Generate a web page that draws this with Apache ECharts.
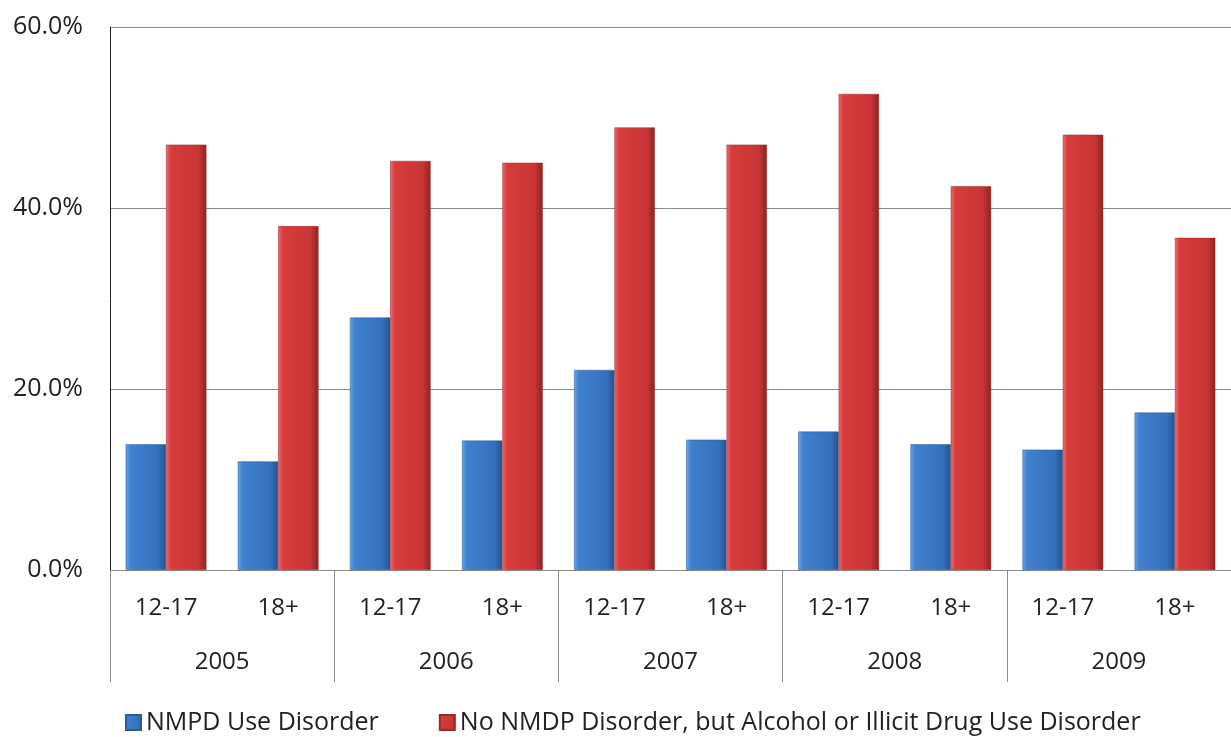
<!DOCTYPE html>
<html>
<head>
<meta charset="utf-8">
<script src="https://cdn.jsdelivr.net/npm/echarts@6/dist/echarts.min.js"></script>
<style>html,body{margin:0;padding:0;background:#fff;}#chart{width:1231px;height:737px;}</style>
</head>
<body>
<div id="chart"></div>
<script>
var ageGroups = ['12-17','18+','12-17','18+','12-17','18+','12-17','18+','12-17','18+'];
var years = ['2005','2006','2007','2008','2009'];
var seriesNames = ['NMPD Use Disorder','No NMDP Disorder, but Alcohol or Illicit Drug Use Disorder'];
var nmpdValues = [13.9, 12.0, 27.9, 14.3, 22.1, 14.4, 15.3, 13.9, 13.3, 17.4];
var otherValues = [47.0, 38.0, 45.2, 45.0, 48.9, 47.0, 52.6, 42.4, 48.1, 36.7];
var yTicks = [0, 20, 40, 60];

var FONT = '"Open Sans", "Noto Sans", sans-serif';
function grad(c0, c1, c2, c3) {
  return new echarts.graphic.LinearGradient(0, 0, 1, 0, [
    {offset: 0, color: c0}, {offset: 0.12, color: c1},
    {offset: 0.8, color: c2}, {offset: 1, color: c3}
  ]);
}
var chart = echarts.init(document.getElementById('chart'));
chart.setOption({
  animation: false,
  backgroundColor: '#ffffff',
  grid: {left: 110, right: 0, top: 27, bottom: 167, containLabel: false},
  legend: {
    left: 120, top: 705, itemWidth: 15, itemHeight: 15, itemGap: 60,
    icon: 'rect',
    textStyle: {fontFamily: FONT, fontSize: 25, color: '#222'},
    data: seriesNames
  },
  xAxis: [{
    type: 'category', data: ageGroups, position: 'bottom',
    axisLine: {show: true, lineStyle: {color: '#8a8a8a', width: 1}},
    axisTick: {show: false},
    axisLabel: {margin: 26, fontFamily: FONT, fontSize: 24, color: '#222', interval: 0}
  }, {
    type: 'category', data: years, position: 'bottom',
    axisLine: {show: false},
    axisTick: {show: true, length: 112, interval: 0, lineStyle: {color: '#8a8a8a', width: 1}},
    axisLabel: {margin: 80, fontFamily: FONT, fontSize: 24, color: '#222', interval: 0}
  }],
  yAxis: {
    type: 'value', min: yTicks[0], max: yTicks[yTicks.length - 1], interval: 20,
    axisLine: {show: true, lineStyle: {color: '#222', width: 1}},
    axisTick: {show: false},
    splitLine: {show: true, lineStyle: {color: '#8a8a8a', width: 1}},
    axisLabel: {margin: 27, fontFamily: FONT, fontSize: 25, color: '#222',
      formatter: function (v) { return v.toFixed(1) + '%'; }}
  },
  series: [{
    name: seriesNames[0], type: 'bar', data: nmpdValues,
    barGap: '0%', barCategoryGap: '28%',
    itemStyle: {color: grad('#6aa6e6', '#3f80cf', '#3570bd', '#24528f'), borderColor: '#2c5b99', borderWidth: 0.5}
  }, {
    name: seriesNames[1], type: 'bar', data: otherValues,
    barGap: '0%', barCategoryGap: '28%',
    itemStyle: {color: grad('#ec6c6c', '#d73c3c', '#c83535', '#8f2222'), borderColor: '#9a2a2a', borderWidth: 0.5}
  }]
});
</script>
</body>
</html>
